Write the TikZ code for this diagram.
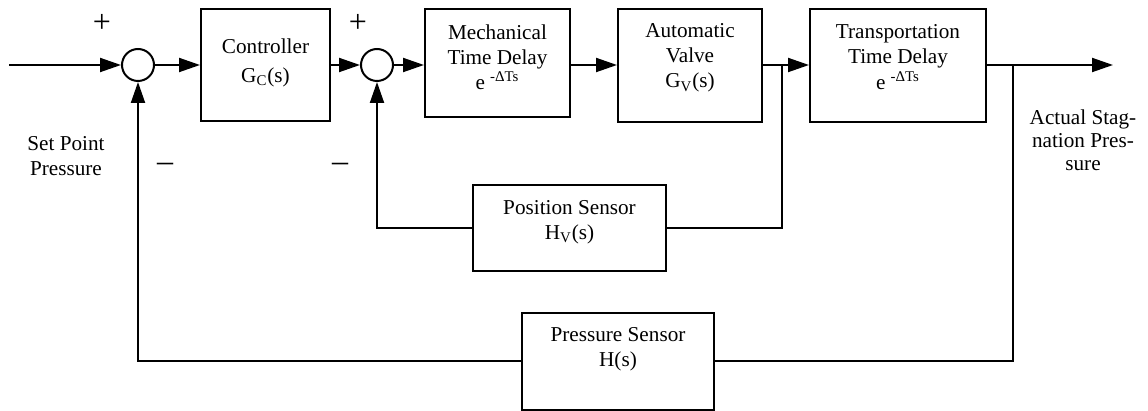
\documentclass[tikz,border=0pt]{standalone}
\usepackage{fontspec}
\setmainfont{Liberation Serif}
\usetikzlibrary{arrows.meta}
\begin{document}
\begin{tikzpicture}[x=0.5pt,y=-0.5pt,
  blk/.style={draw, line width=1pt, inner sep=0pt},
  sumj/.style={draw, circle, line width=1pt, minimum size=16pt, inner sep=0pt},
  txt/.style={align=center, font=\fontsize{10.6}{12.6}\selectfont, inner sep=0pt},
  sgn/.style={font=\fontsize{16}{18}\selectfont, inner sep=0pt},
  wire/.style={line width=1pt},
  arr/.style={wire, -{Triangle[length=10.5pt,width=7pt]}},
]
\useasboundingbox (0,0) rectangle (1148,411);

% blocks
\node[blk, minimum width=64.5pt, minimum height=56pt] (ctrl) at (265.5,65) {};
\node[blk, minimum width=72.5pt, minimum height=54pt] (mech) at (497.5,63) {};
\node[blk, minimum width=72pt, minimum height=56.5pt] (valve) at (690,65.5) {};
\node[blk, minimum width=88pt, minimum height=56.5pt] (trans) at (898,65.5) {};
\node[blk, minimum width=96.5pt, minimum height=43pt] (pos) at (569.5,228) {};
\node[blk, minimum width=96pt, minimum height=48.5pt] (pres) at (618,361.5) {};

% summing junctions
\node[sumj] (s1) at (138,65) {};
\node[sumj] (s2) at (377,65) {};

% block texts
\node[txt] (tctrl) at (265.5,63) {Controller\\[1.5pt]G\textsubscript{C}(s)};
\node[txt] (tmech) at (497.5,57) {Mechanical\\Time Delay\\e \textsuperscript{-ΔTs}};
\node[txt] (tvalve) at (690,58) {Automatic\\Valve\\G\textsubscript{V}(s)};
\node[txt] (ttrans) at (898,57) {Transportation\\Time Delay\\e \textsuperscript{-ΔTs}};
\node[txt] (tpos) at (569.5,222) {Position Sensor\\H\textsubscript{V}(s)};
\node[txt] (tpres) at (618,349) {Pressure Sensor\\H(s)};

% signal labels
\node[txt] (tset) at (66,156) {Set Point\\Pressure};
\node[txt, font=\fontsize{10.6}{11.5}\selectfont] (tact) at (1083,140) {Actual Stag-\\nation Pres-\\sure};

% signs
\node[sgn] (p1) at (102,23) {+};
\node[sgn] (p2) at (358,23) {+};
\node[sgn] (m1) at (165,167) {–};
\node[sgn] (m2) at (340,167) {–};

% coordinates
\coordinate (in) at (9,65);
\coordinate (b1) at (782,65);
\coordinate (b2) at (1013,65);
\coordinate (out) at (1113,65);

% forward path
\draw[arr] (in) -- (s1);
\draw[arr] (s1) -- (s1 -| ctrl.west);
\draw[arr] (s1 -| ctrl.east) -- (s2);
\draw[arr] (s2) -- (s2 -| mech.west);
\draw[arr] (s2 -| mech.east) -- (s2 -| valve.west);
\draw[arr] (s2 -| valve.east) -- (s2 -| trans.west);
\draw[arr] (s2 -| trans.east) -- (out);

% feedback paths
\draw[wire] (b1) |- (pos.east);
\draw[arr] (pos.west) -| (s2.south);
\draw[wire] (b2) |- (pres.east);
\draw[arr] (pres.west) -| (s1.south);
\end{tikzpicture}
\end{document}
